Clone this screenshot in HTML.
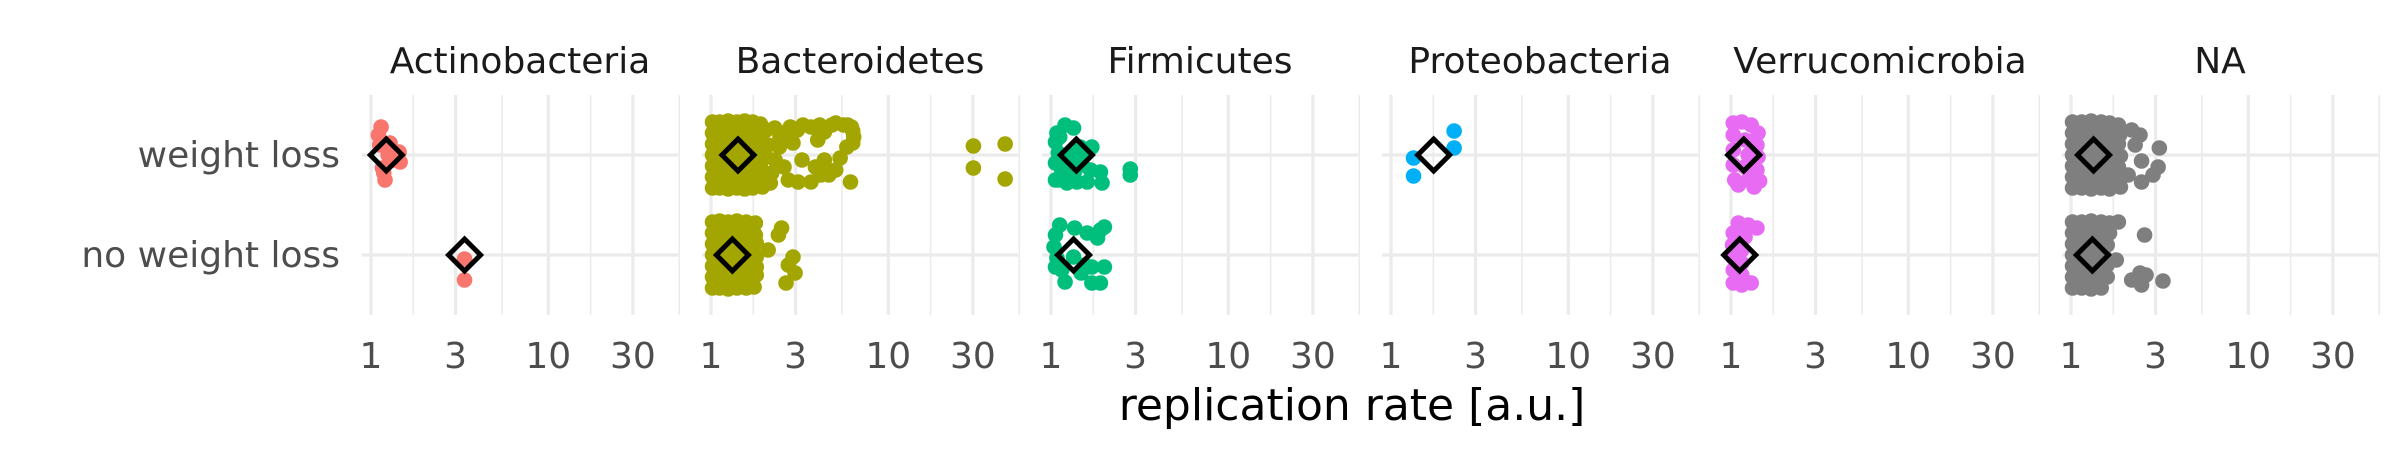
<!DOCTYPE html>
<html><head><meta charset="utf-8">
<style>
html,body{margin:0;padding:0;background:#fff;}
svg{display:block;}
text{font-family:"DejaVu Sans","Liberation Sans",sans-serif;}
</style></head>
<body>
<svg id="chart" width="2400" height="450" viewBox="0 0 2400 450" xmlns="http://www.w3.org/2000/svg">
<rect x="0" y="0" width="2400" height="450" fill="#fff"/>
<g id="grid"></g>
<g id="pts"></g>
<g id="means"></g>
<g id="labels"></g>
<text x="1352" y="420" font-size="44" fill="#000" text-anchor="middle">replication rate [a.u.]</text>
</svg>
<script>
const phyla = ["Actinobacteria","Bacteroidetes","Firmicutes","Proteobacteria","Verrucomicrobia","NA"];
const groups = ["weight loss","no weight loss"];
const colors = ["#F8766D","#A3A500","#00BF7D","#00B0F6","#E76BF3","#7F7F7F"];
const tickValues = [1,3,10,30];
const tickLabels = ["1","3","10","30"];
const minorValues = [1.732,5.477,17.32,54.77];
const meansWL = [1.22,1.42,1.39,1.74,1.18,1.34];
const meansNWL = [3.37,1.32,1.34,null,1.12,1.32];

// points: [value, jitter (row units)]
const actinoWL = [[1.14,-0.28],[1.10,-0.20],[1.28,-0.12],[1.44,-0.03],[1.46,0.07],[1.16,0.13],[1.20,0.25],[1.25,0.0],[1.35,0.05],[1.12,-0.1],[1.18,0.18]];
const actinoNWL = [[3.37,0.04],[3.37,0.25]];
const bactWL = [
[1.02,-0.33],[1.12,-0.33],[1.25,-0.34],[1.4,-0.33],[1.55,-0.34],[1.72,-0.33],[1.9,-0.31],
[1.02,-0.22],[1.12,-0.22],[1.25,-0.23],[1.4,-0.22],[1.55,-0.22],[1.72,-0.23],[1.9,-0.2],[2.05,-0.25],
[1.02,-0.11],[1.12,-0.11],[1.25,-0.12],[1.4,-0.11],[1.55,-0.1],[1.72,-0.11],[1.9,-0.12],[2.1,-0.1],
[1.02,0.0],[1.12,0.0],[1.25,0.01],[1.4,0.0],[1.55,0.0],[1.72,0.0],[1.9,0.01],[2.05,0.02],
[1.02,0.11],[1.12,0.11],[1.25,0.12],[1.4,0.11],[1.55,0.1],[1.72,0.11],[1.9,0.12],
[1.02,0.22],[1.12,0.22],[1.25,0.23],[1.4,0.22],[1.55,0.22],[1.72,0.23],[1.9,0.21],[2.05,0.25],
[1.02,0.33],[1.12,0.33],[1.25,0.34],[1.4,0.33],[1.55,0.34],[1.72,0.33],[1.95,0.32],
[2.58,-0.22],[3.07,-0.25],[3.66,-0.28],[4.36,-0.23],[5.05,-0.32],[6.19,-0.28],[6.38,-0.18],[5.84,-0.08],
[5.35,0.03],[4.36,0.05],[3.88,0.12],[3.26,0.05],[2.73,0.25],[3.66,0.27],[4.62,0.2],[5.05,0.15],[6.12,0.27],
[2.16,0.28],[2.29,-0.27],[2.43,-0.08],[2.9,-0.12],[2.58,0.12],[4.8,-0.3],[5.6,-0.3],[4.0,-0.15],
[2.3,0.05],[2.2,0.18],[2.45,-0.18],[2.8,-0.28],[3.3,-0.3],[4.1,-0.3],[6.3,-0.24],[6.3,-0.12],[5.9,-0.3],[4.15,0.2],[4.4,0.12],[3.1,0.27],
[30.2,-0.09],[30.2,0.13],[45.6,-0.11],[45.6,0.24]];
const bactNWL = [
[1.02,-0.33],[1.12,-0.34],[1.25,-0.33],[1.4,-0.34],[1.58,-0.33],[1.78,-0.32],
[1.02,-0.22],[1.12,-0.22],[1.25,-0.23],[1.4,-0.22],[1.58,-0.22],[1.78,-0.2],
[1.02,-0.11],[1.12,-0.11],[1.25,-0.12],[1.4,-0.11],[1.58,-0.1],[1.8,-0.12],
[1.02,0.0],[1.12,0.0],[1.25,0.01],[1.4,0.0],[1.58,0.0],[1.8,0.02],
[1.02,0.11],[1.12,0.11],[1.25,0.12],[1.4,0.11],[1.58,0.1],[1.8,0.12],
[1.02,0.22],[1.12,0.22],[1.25,0.23],[1.4,0.22],[1.58,0.22],[1.8,0.2],
[1.02,0.33],[1.12,0.33],[1.25,0.34],[1.4,0.33],[1.58,0.33],[1.75,0.32],
[2.5,-0.27],[2.4,-0.2],[2.9,0.02],[2.98,0.18],[2.65,0.28],[2.73,0.1],[2.1,-0.05]];
const firmWL = [[1.20,-0.30],[1.34,-0.27],[1.08,-0.22],[1.06,-0.13],[1.10,-0.02],[1.06,0.08],[1.06,0.25],[1.10,0.25],[1.23,0.28],[1.40,0.27],[1.60,0.27],[1.67,0.15],[1.70,-0.08],[1.46,-0.08],[1.90,0.17],[1.94,0.28],[2.80,0.14],[2.80,0.2],[1.25,0.05],[1.15,0.15],[1.35,0.18],[1.5,0.1],[1.12,-0.18],[1.3,0.0],[1.55,-0.02]];
const firmNWL = [[1.12,-0.30],[1.36,-0.27],[1.60,-0.22],[2.0,-0.28],[1.83,-0.17],[1.06,-0.2],[1.04,-0.08],[1.06,0.12],[1.20,0.27],[1.48,0.18],[1.70,0.28],[1.90,0.28],[2.0,0.12],[1.70,0.12],[1.34,0.02],[1.08,0.03],[1.15,0.15],[1.55,0.1],[1.9,-0.25]];
const proteoWL = [[1.34,0.03],[1.34,0.21],[2.27,-0.24],[2.27,-0.07]];
const proteoNWL = [];
const verrWL = [[1.03,-0.32],[1.15,-0.33],[1.3,-0.3],[1.42,-0.22],[1.03,-0.2],[1.2,-0.15],[1.4,-0.1],[1.03,-0.05],[1.25,0.0],[1.42,0.02],[1.03,0.1],[1.2,0.12],[1.4,0.15],[1.05,0.25],[1.25,0.25],[1.45,0.26],[1.1,0.3],[1.35,0.32]];
const verrNWL = [[1.1,-0.32],[1.25,-0.3],[1.4,-0.27],[1.03,-0.22],[1.2,-0.18],[1.02,-0.1],[1.15,-0.05],[1.02,0.02],[1.15,0.08],[1.03,0.15],[1.15,0.2],[1.03,0.28],[1.15,0.3],[1.3,0.28]];
const naWL = [
[1.02,-0.33],[1.15,-0.33],[1.3,-0.34],[1.48,-0.33],[1.65,-0.32],[1.85,-0.3],
[1.02,-0.22],[1.15,-0.22],[1.3,-0.23],[1.48,-0.22],[1.65,-0.22],[1.88,-0.2],
[1.02,-0.11],[1.15,-0.11],[1.3,-0.12],[1.48,-0.11],[1.65,-0.1],[1.85,-0.11],
[1.02,0.0],[1.15,0.0],[1.3,0.01],[1.48,0.0],[1.65,0.0],[1.9,0.01],
[1.02,0.11],[1.15,0.11],[1.3,0.12],[1.48,0.11],[1.65,0.1],[1.85,0.12],
[1.02,0.22],[1.15,0.22],[1.3,0.23],[1.48,0.22],[1.65,0.22],[1.85,0.21],
[1.02,0.33],[1.15,0.33],[1.3,0.34],[1.48,0.33],[1.65,0.34],[1.9,0.32],
[2.2,-0.25],[2.45,-0.2],[2.3,-0.1],[3.15,-0.07],[2.5,0.06],[3.1,0.12],[2.9,0.2],[2.5,0.27],[2.1,0.2]];
const naNWL = [
[1.02,-0.33],[1.15,-0.33],[1.3,-0.34],[1.48,-0.33],[1.65,-0.32],
[1.02,-0.22],[1.15,-0.22],[1.3,-0.23],[1.48,-0.22],[1.65,-0.22],
[1.02,-0.11],[1.15,-0.11],[1.3,-0.12],[1.48,-0.11],[1.6,-0.1],
[1.02,0.0],[1.15,0.0],[1.3,0.01],[1.48,0.0],[1.55,0.02],
[1.02,0.11],[1.15,0.11],[1.3,0.12],[1.48,0.11],[1.6,0.1],
[1.02,0.22],[1.15,0.22],[1.3,0.23],[1.48,0.22],[1.6,0.22],
[1.02,0.33],[1.15,0.33],[1.3,0.34],[1.48,0.33],
[1.85,-0.33],[2.6,-0.2],[1.8,0.05],[2.2,0.25],[2.5,0.3],[2.65,0.2],[3.3,0.26],[2.45,0.18]];
const pointsWL = [actinoWL,bactWL,firmWL,proteoWL,verrWL,naWL];
const pointsNWL = [actinoNWL,bactNWL,firmNWL,proteoNWL,verrNWL,naNWL];

const NS = "http://www.w3.org/2000/svg";
const panelLeft0 = 362, panelPitch = 340, panelW = 316, decade = 177.3, logMin = -9/177.3;
const rowY = [155, 255], rowUnit = 100, panelTop = 95, panelBottom = 315;
function xScale(k, v){ return panelLeft0 + k*panelPitch + (Math.log10(v) - logMin)*decade; }
function yScale(g, j){ return rowY[g] + j*rowUnit; }
function mk(tag, attrs, parent){ const e=document.createElementNS(NS,tag); for(const a in attrs) e.setAttribute(a,attrs[a]); parent.appendChild(e); return e; }

const grid=document.getElementById('grid'), pts=document.getElementById('pts'), means=document.getElementById('means'), labels=document.getElementById('labels');

phyla.forEach((p,k)=>{
  const L = panelLeft0 + k*panelPitch;
  minorValues.forEach(v=>{
    const x=xScale(k,v);
    const l=mk('line',{x1:x,x2:x,y1:panelTop,y2:panelBottom,stroke:'#ebebeb','stroke-width':1.6},grid);
    
    
  });
  rowY.forEach(y=>{
    const l=mk('line',{x1:L,x2:L+panelW,y1:y,y2:y,stroke:'#ebebeb','stroke-width':3.2},grid);
    
    
  });
  tickValues.forEach((v,i)=>{
    const x=xScale(k,v);
    const l=mk('line',{x1:x,x2:x,y1:panelTop,y2:panelBottom,stroke:'#ebebeb','stroke-width':3.2},grid);
    
    
    const t=mk('text',{x:x,y:368,'font-size':36,fill:'#4d4d4d','text-anchor':'middle'},labels);
    t.textContent=tickLabels[i];
    
    
  });
  const st=mk('text',{x:L+panelW/2,y:73,'font-size':36,fill:'#1a1a1a','text-anchor':'middle'},labels);
  st.textContent=p;
  
  

  [pointsWL[k],pointsNWL[k]].forEach((arr,g)=>{
    arr.forEach(d=>{
      const c=mk('circle',{cx:xScale(k,d[0]),cy:yScale(g,d[1]),r:7.8,fill:colors[k]},pts);
      
      
    });
  });
  [meansWL[k],meansNWL[k]].forEach((m,g)=>{
    if(m==null) return;
    const x=xScale(k,m), y=rowY[g], s=16;
    const d=mk('polygon',{points:`${x},${y-s} ${x+s},${y} ${x},${y+s} ${x-s},${y}`,fill:'none',stroke:'#000','stroke-width':5,'stroke-linejoin':'miter'},means);
    
    
  });
});
groups.forEach((g,i)=>{
  const t=mk('text',{x:340,y:rowY[i]+12,'font-size':36,fill:'#4d4d4d','text-anchor':'end'},labels);
  t.textContent=g;
  
  
});
</script>
</body></html>
